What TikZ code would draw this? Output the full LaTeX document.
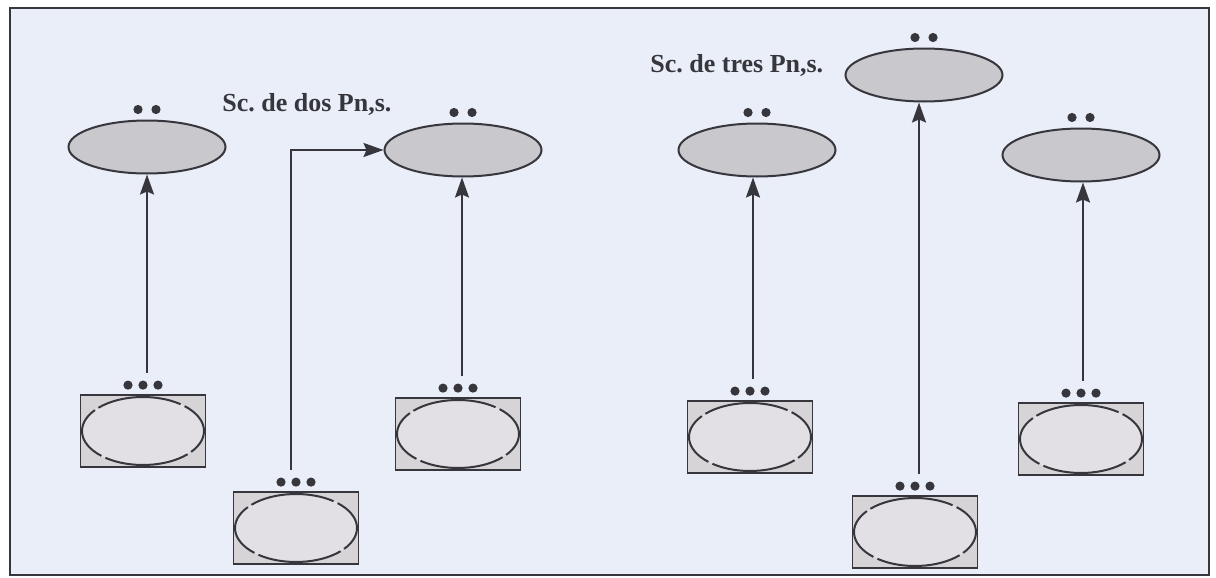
\documentclass[tikz,border=0pt]{standalone}
\usepackage{fontspec}
\setmainfont{Liberation Serif}
\usetikzlibrary{arrows.meta,calc,shapes.geometric}

\definecolor{panelbg}{HTML}{E9EEF8}
\definecolor{inkline}{HTML}{36363C}
\definecolor{ovalfill}{HTML}{C8C8CD}
\definecolor{boxfill}{HTML}{D6D4D7}
\definecolor{ringfill}{HTML}{E2E0E4}

\tikzset{
  oval/.style={ellipse, draw=inkline, line width=1pt, fill=ovalfill,
    minimum width=78.5pt, minimum height=26.5pt, inner sep=0pt},
  ringbox/.style={rectangle, draw=inkline, line width=0.9pt, fill=boxfill,
    minimum width=62.5pt, minimum height=36pt, inner sep=0pt,
    path picture={
      \coordinate (pc) at (path picture bounding box.center);
      \fill[ringfill] (pc) ellipse[x radius=30.5pt, y radius=17pt];
      \foreach \a in {52,142,232,322}
        \draw[inkline, line width=1pt]
          ($(pc)+(\a:30.5pt and 17pt)$)
          arc[start angle=\a, end angle=\a+85, x radius=30.5pt, y radius=17pt];
    }},
  arr/.style={draw=inkline, line width=1pt,
    -{Stealth[length=10pt, width=7pt, inset=1.5pt]}},
  caption/.style={font=\fontsize{13pt}{15pt}\selectfont\bfseries,
    text=inkline, inner sep=0pt},
  bead/.style={fill=inkline}
}

\newcommand{\twodots}[1]{%
  \fill[bead] ($(#1.north)+(-4.5pt,5pt)$) circle (2.3pt);
  \fill[bead] ($(#1.north)+(4.5pt,5pt)$) circle (2.3pt);}
\newcommand{\threedots}[1]{%
  \foreach \dx in {-7.5pt,0pt,7.5pt}
    \fill[bead] ($(#1.north)+(\dx,4.5pt)$) circle (2.3pt);}

\begin{document}
\frenchspacing
\begin{tikzpicture}[x=0.5pt, y=-0.5pt]
  \useasboundingbox (0,0) rectangle (1216,578);
  \fill[white] (0,0) rectangle (1216,578);
  \draw[inkline, line width=0.9pt, fill=panelbg] (10,8) rectangle (1209,575);

  % upper ovals
  \node[oval] (e1) at (147,147) {};
  \node[oval] (e2) at (463,150) {};
  \node[oval] (e3) at (757,150) {};
  \node[oval] (e4) at (924,75) {};
  \node[oval] (e5) at (1081,155) {};

  % lower boxes with rings
  \node[ringbox] (b1) at (143,431) {};
  \node[ringbox] (b2) at (296,528) {};
  \node[ringbox] (b3) at (458,434) {};
  \node[ringbox] (b4) at (750,437) {};
  \node[ringbox] (b5) at (915,532) {};
  \node[ringbox] (b6) at (1081,439) {};

  % captions
  \node[caption, anchor=base west] (t1) at (222,111) {Sc. de dos Pn,s.};
  \node[caption, anchor=base west] (t2) at (650,72) {Sc. de tres Pn,s.};

  % dots
  \foreach \n in {e1,e2,e3,e4,e5} { \twodots{\n} }
  \foreach \n in {b1,b2,b3,b4,b5,b6} { \threedots{\n} }

  % connectors: each rises from above its box to the oval above
  \coordinate (s1) at ($(e1.south |- b1.north)+(0,10.5pt)$);
  \coordinate (s2) at ($(b2.north)+(-2.5pt,10.5pt)$);
  \coordinate (s3) at ($(b3.north)+(2pt,10.5pt)$);
  \coordinate (s4) at ($(b4.north)+(1.5pt,10.5pt)$);
  \coordinate (s5) at ($(b5.north)+(2pt,10.5pt)$);
  \coordinate (s6) at ($(b6.north)+(1pt,10.5pt)$);
  \draw[arr] (s1) -- (e1.south);
  \draw[arr] (s2) |- (e2.west);
  \draw[arr] (s3) -- (s3 |- e2.south);
  \draw[arr] (s4) -- (s4 |- e3.south);
  \draw[arr] (s5) -- (s5 |- e4.south);
  \draw[arr] (s6) -- (s6 |- e5.south);
\end{tikzpicture}
\end{document}
